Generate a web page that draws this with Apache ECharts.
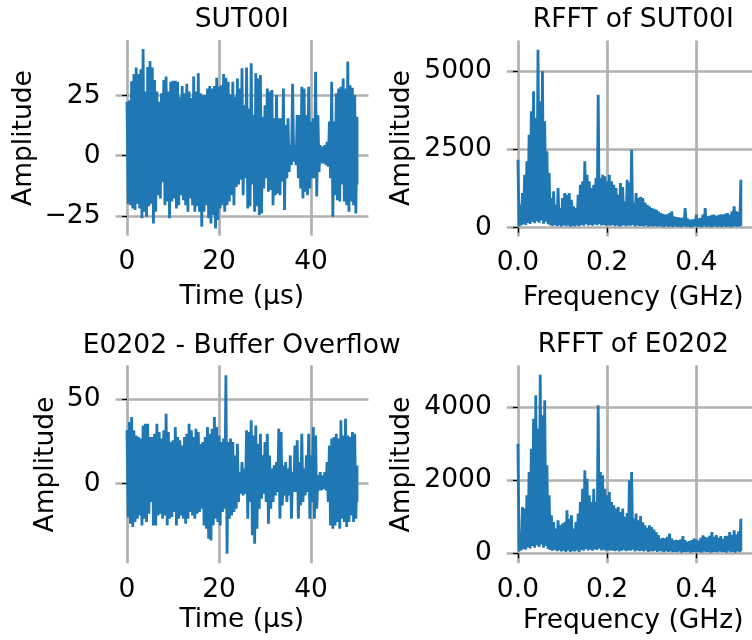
<!DOCTYPE html>
<html><head><meta charset="utf-8">
<script src="https://cdn.jsdelivr.net/npm/echarts@6/dist/echarts.min.js"></script>
<style>html,body{margin:0;padding:0;background:#fff}#c{width:752px;height:640px}</style>
</head><body><div id="c"></div>
<script>
// ---- data ----
const titles = ['SUT00I', 'RFFT of SUT00I', 'E0202 - Buffer Overflow', 'RFFT of E0202'];
const timeName = 'Time (µs)';
const freqName = 'Frequency (GHz)';
const ampName = 'Amplitude';
const timeStep = 0.5;     // µs between envelope samples
const freqStep = 0.005;   // GHz between envelope samples
const timeTicks = [0, 20, 40];
const freqTicks = [0, 0.2, 0.4];
const sutTicks = [-25, 0, 25];
const sutFftTicks = [0, 2500, 5000];
const e0202Ticks = [0, 50];
const e0202FftTicks = [0, 2000, 4000];

// SUT00I time signal: upper / lower excursions every 0.5 µs
const sutHi = [
 22.5, 23, 31, 34, 36.7, 34, 36, 44.4, 26.7, 37,
 39.4, 36.7, 31.5, 26.7, 22.5, 26, 31.5, 33, 26.7, 30.8,
 31.2, 31.2, 30.8, 24.6, 29, 26, 30, 26.7, 24, 33,
 26.7, 34.3, 26, 25.3, 25.3, 28, 29, 28, 29, 32.5,
 28.7, 29.4, 34, 32.5, 30.8, 25.5, 30.8, 24.6, 32.2, 28,
 36.4, 21, 36.7, 19.7, 38.5, 17, 34.3, 32.2, 33.6, 16.2,
 21, 28, 26.7, 27.4, 15.6, 25.3, 15.6, 15.6, 28, 12.8,
 15.6, 4.4, 30, 4.4, 17, 17, 28.7, 28, 17, 28.7,
 14.2, 15.6, 35, 17, 4.4, 3.8, 4.4, 5.8, 14.2, 30.8,
 14.2, 26, 28, 28.7, 32.2, 28, 39.2, 29.4, 28.3, 25.3,
 16.2];
const sutLo = [
 -20, -20.6, -22, -22.6, -20, -22, -26, -23.3, -25.4, -21,
 -20, -28.2, -23.3, -16.4, -17.8, -11, -20.6, -19, -26, -19,
 -17.8, -22, -20.6, -16.4, -18.5, -20.6, -23.3, -17.8, -20.6, -23.3,
 -21, -23.3, -29.6, -23.3, -20.6, -26, -28.2, -24.7, -30.3, -26.8,
 -22, -20.6, -23.3, -20.6, -19, -16.4, -20.6, -13, -12, -10,
 -16.4, -9.4, -22, -21, -12, -23.3, -21, -24.7, -24, -13.6,
 -9.4, -15, -14.3, -20.6, -16.4, -15.7, -16.4, -10.8, -22.6, -9.4,
 -6.7, -3.9, -2.5, -3.9, -9.4, -13.6, -17.8, -15, -16.4, -13.6,
 -9.4, -9.4, -17, -6.7, -3.2, -3.2, -3.9, -4.6, -9.4, -25.4,
 -16.4, -18.5, -19, -12, -19, -20.6, -23.3, -19, -20.6, -24,
 -12];

// RFFT of SUT00I: upper / lower envelope every 0.005 GHz
const sutFftHi = [
 2175, 735, 1109, 1695, 2121, 2974, 3720, 4360, 3507, 5692,
 4040, 5000, 3400, 2441, 1748, 949, 1162, 735, 1269, 629,
 949, 1109, 1055, 1109, 895, 682, 629, 1055, 1375, 1482,
 2121, 1695, 1482, 1269, 1375, 1588, 4253, 1588, 1695, 1642,
 1482, 1695, 1482, 1375, 1269, 1055, 1428, 1300, 842, 1535,
 1450, 2494, 800, 1109, 949, 990, 949, 800, 735, 680,
 629, 600, 576, 520, 469, 440, 416, 430, 469, 522,
 362, 340, 330, 309, 320, 629, 300, 256, 256, 270,
 416, 300, 309, 420, 629, 362, 380, 400, 416, 380,
 400, 430, 416, 440, 469, 420, 520, 682, 520, 500,
 1535];
const sutFftLo = [
 40, 70, 110, 90, 150, 120, 190, 140, 210, 160,
 230, 130, 190, 110, 80, 60, 90, 50, 70, 40,
 80, 50, 70, 30, 60, 40, 70, 50, 90, 60,
 110, 70, 90, 60, 100, 80, 120, 70, 90, 60,
 80, 60, 90, 50, 70, 40, 60, 80, 50, 70,
 60, 90, 40, 70, 50, 60, 40, 70, 30, 50,
 40, 60, 30, 50, 40, 20, 50, 30, 40, 20,
 50, 30, 40, 20, 50, 30, 40, 20, 30, 50,
 30, 40, 20, 50, 30, 40, 20, 30, 50, 30,
 40, 20, 50, 30, 40, 20, 30, 50, 30, 40,
 60];

// E0202 time signal
const e0202Hi = [
 31.5, 36.4, 39.4, 31.5, 28.5, 27.6, 26.6, 34.4, 35.4, 35.4,
 27.6, 27.6, 29.5, 35.4, 30.5, 26.6, 31.5, 41.3, 30.5, 24.6,
 25.6, 33.5, 27.6, 25.6, 22.6, 27.6, 29.5, 35.4, 31.5, 27.6,
 32.5, 30.5, 23.6, 24.6, 27.6, 33.5, 29.5, 32.5, 39.4, 33.5,
 28.5, 24.6, 26.6, 64, 24.6, 26.6, 24.6, 16.7, 23.6, 6.9,
 12.8, 8.9, 31.5, 30.5, 37.4, 28.5, 34.4, 23.6, 29.5, 16.7,
 24.6, 29.5, 16.7, 8.9, 10.8, 12.8, 32.5, 30.5, 10.8, 12.8,
 8.9, 16.7, 6.9, 22.6, 25.6, 12.8, 29.5, 8.9, 16.7, 29.5,
 16.7, 33.5, 28.5, 4.9, 6.9, 4.9, 6.9, 12.8, 22.6, 26.6,
 27.6, 29.5, 26.6, 37.4, 28.5, 38.4, 28.5, 27.6, 30.5, 29.5,
 10.8];
const e0202Lo = [
 -20, -23.6, -25.6, -22.6, -20.7, -18.7, -24.6, -20.7, -22.6, -17.7,
 -10.8, -24.6, -24.6, -18.7, -17.7, -20.7, -18.7, -24.6, -20.7, -19.7,
 -16.7, -24.6, -20.7, -18.7, -20.7, -23.6, -20.7, -16.7, -18.7, -20.7,
 -17.7, -16.7, -14.8, -24.6, -26.6, -32.5, -33.5, -24.6, -20.7, -22.6,
 -24.6, -16.7, -14.8, -41.3, -20.7, -18.7, -16.7, -14.8, -10.8, -5.9,
 -6.9, -5.9, -20.7, -10.8, -30.5, -35.4, -26.6, -14.8, -8.9, -5.9,
 -10.8, -23.6, -14.8, -10.8, -6.9, -4.9, -20.7, -12.8, -6.9, -10.8,
 -6.9, -20.7, -4.9, -4.9, -20.7, -12.8, -10.8, -6.9, -4.9, -20.7,
 -10.8, -20.7, -14.8, -3.9, -3.9, -3, -3.9, -10.8, -24.6, -26.6,
 -24.6, -22.6, -26.6, -20.7, -22.6, -25.6, -22.6, -18.7, -22.6, -20.7,
 -10.8];

// RFFT of E0202
const e0202FftHi = [
 2997, 583, 1266, 1221, 1585, 2223, 2861, 3680, 4318, 3407,
 4883, 3771, 4181, 2405, 1585, 1039, 856, 674, 902, 765,
 811, 856, 1175, 947, 1039, 674, 856, 1084, 1403, 1767,
 2268, 2041, 1585, 1403, 1767, 1403, 4045, 2223, 2132, 1767,
 1585, 1676, 1403, 1312, 1221, 1266, 1130, 1221, 1000, 1100,
 1995, 2223, 950, 1084, 900, 1020, 850, 765, 700, 765,
 720, 650, 583, 500, 401, 420, 401, 450, 537, 400,
 355, 370, 355, 380, 474, 360, 310, 330, 360, 401,
 380, 350, 420, 492, 450, 430, 480, 583, 450, 500,
 420, 470, 390, 470, 480, 583, 500, 629, 520, 600,
 947];
const e0202FftLo = [
 50, 80, 120, 100, 160, 130, 200, 150, 220, 170,
 240, 150, 200, 120, 90, 70, 100, 60, 80, 50,
 70, 40, 80, 40, 60, 50, 80, 40, 90, 70,
 120, 80, 100, 70, 110, 90, 130, 80, 100, 70,
 90, 70, 80, 60, 80, 50, 70, 90, 60, 80,
 70, 100, 50, 80, 60, 70, 50, 80, 40, 60,
 50, 70, 40, 60, 50, 30, 60, 40, 50, 30,
 40, 30, 50, 20, 40, 30, 50, 20, 40, 30,
 40, 30, 20, 50, 30, 40, 20, 30, 40, 30,
 50, 30, 40, 20, 50, 30, 40, 20, 50, 30,
 60];

// ---- build ----
function zig(hi, lo, step) {
  const d = [];
  const n = hi.length;
  for (let i = 0; i < n; i++) {
    d.push([i * step, hi[i]]);
    d.push([i < n - 1 ? i * step + step / 2 : i * step, lo[i]]);
  }
  return d;
}
const FONT = '"DejaVu Sans", "Liberation Sans", sans-serif';
const TXT = '#000000';
const GRIDC = '#b0b0b0';
const FS = 26.5;
const minus = v => (v < 0 ? '\u2212' + Math.abs(v) : String(v));

function xAx(gi, min, max, ticks, fmt) {
  return {
    type: 'value', gridIndex: gi, min: min, max: max,
    axisLine: { show: false },
    axisTick: { show: true, customValues: ticks, length: 5, lineStyle: { color: TXT, width: 1.2 } },
    axisLabel: { customValues: ticks, margin: 13, fontSize: FS, color: TXT, fontFamily: FONT, formatter: fmt },
    splitLine: { show: true, lineStyle: { color: GRIDC, width: 2.7 } }
  };
}
function yAx(gi, min, max, ticks, fmt) {
  return {
    type: 'value', gridIndex: gi, min: min, max: max,
    axisLine: { show: false },
    axisTick: { show: true, customValues: ticks, length: 5, lineStyle: { color: TXT, width: 1.2 } },
    axisLabel: { customValues: ticks, margin: 15, fontSize: FS, color: TXT, fontFamily: FONT, formatter: fmt },
    splitLine: { show: true, lineStyle: { color: GRIDC, width: 2.7 } }
  };
}
function ser(i, data) {
  return {
    type: 'line', xAxisIndex: i, yAxisIndex: i, data: data, showSymbol: false, symbol: 'none',
    lineStyle: { color: '#1f77b4', width: 2.8 }, animation: false, silent: true, clip: false
  };
}
function txt(t, x, y, rot) {
  return {
    type: 'text', x: x, y: y, rotation: rot || 0, silent: true,
    style: { text: t, fill: TXT, font: FS + 'px ' + FONT, textAlign: 'center', textVerticalAlign: 'middle', align: 'center', verticalAlign: 'middle' }
  };
}
const fmtF = v => v.toFixed(1);

const option = {
  animation: false,
  backgroundColor: '#ffffff',
  grid: [
    { left: 115.5, top: 40, width: 253, height: 195.7 },
    { left: 506.8, top: 40.5, width: 253, height: 196 },
    { left: 115.5, top: 365.3, width: 253, height: 198 },
    { left: 506.8, top: 365.3, width: 253, height: 198 }
  ],
  xAxis: [
    xAx(0, -2.5, 52.5, timeTicks, minus),
    xAx(1, -0.025, 0.525, freqTicks, fmtF),
    xAx(2, -2.5, 52.5, timeTicks, minus),
    xAx(3, -0.025, 0.525, freqTicks, fmtF)
  ],
  yAxis: [
    yAx(0, -33.3, 48.2, sutTicks, minus),
    yAx(1, -281, 5985, sutFftTicks, minus),
    yAx(2, -47, 69.9, e0202Ticks, minus),
    yAx(3, -273, 5140, e0202FftTicks, minus)
  ],
  series: [
    ser(0, zig(sutHi, sutLo, timeStep)),
    ser(1, zig(sutFftHi, sutFftLo, freqStep)),
    ser(2, zig(e0202Hi, e0202Lo, timeStep)),
    ser(3, zig(e0202FftHi, e0202FftLo, freqStep))
  ],
  graphic: [
    txt(titles[0], 241.75, 20), txt(titles[1], 633.3, 20),
    txt(titles[2], 241.75, 346), txt(titles[3], 633.3, 345),
    txt(timeName, 241.75, 297), txt(freqName, 633.3, 298),
    txt(timeName, 241.75, 620), txt(freqName, 633.3, 621),
    txt(ampName, 24, 138, Math.PI / 2), txt(ampName, 402, 138, Math.PI / 2),
    txt(ampName, 46, 464.5, Math.PI / 2), txt(ampName, 402, 464.5, Math.PI / 2)
  ]
};
const chart = echarts.init(document.getElementById('c'), null, { renderer: 'canvas' });
chart.setOption(option);
</script>
</body></html>
